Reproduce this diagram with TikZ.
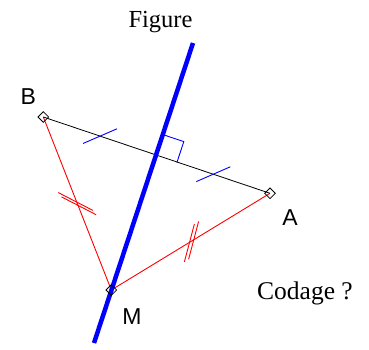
\documentclass[tikz,border=0pt]{standalone}
\usepackage{fontspec}
\setmainfont{Liberation Serif}
\newfontfamily\labelfont{Liberation Sans}
\usetikzlibrary{positioning,calc}

\tikzset{
  pointmark/.style={draw=black, line width=0.8pt, shape=rectangle, rotate=45, minimum size=7.5pt, inner sep=0pt},
  ptlabel/.style={font=\labelfont\fontsize{23}{26}\selectfont, inner sep=0pt, anchor=base},
  titletext/.style={font=\fontsize{24.5}{28}\selectfont, inner sep=0pt, anchor=base},
  codeblue/.style={blue, line width=0.9pt},
  codered/.style={red, line width=0.9pt}
}

\begin{document}
\begin{tikzpicture}[x=1pt,y=-1pt]
\useasboundingbox (0,0) rectangle (369,350);
% points
\coordinate (B) at (43.3,117);
\coordinate (A) at (270,193.3);
\coordinate (M) at (111.3,290);
\coordinate (top) at (193,43);
\coordinate (bot) at (94,343);
\coordinate (I) at (156,155.5);
% segments
\draw[codered] (B) -- (M);
\draw[codered] (A) -- (M);
\draw[black, line width=0.8pt] (B) -- (A);
% mediatrice
\draw[blue, line width=4.5pt] (top) -- (bot);
% right angle
\draw[codeblue] ($(I)+(20.9,7)$) -- ($(I)+(27.8,-13.9)$) -- ($(I)+(6.9,-20.9)$);
% equal halves of AB
\draw[codeblue] (83,143.5) -- (117,128.8);
\draw[codeblue] (196.3,181.6) -- (230.3,166.8);
% equal lengths MA and MB
\draw[codered] (58.3,192.6) -- (92.9,210.4);
\draw[codered] (61.5,196.9) -- (96.1,214.7);
\draw[codered] (198.6,221.5) -- (188.6,259.3);
\draw[codered] (194.4,224) -- (184.4,261.8);
% marks
\node[pointmark] (mB) at (B) {};
\node[pointmark] (mA) at (A) {};
\node[pointmark] (mM) at (M) {};
% labels
\node[ptlabel] (lB) at (28.3,105) {B};
\node[ptlabel] (lA) at (290,225) {A};
\node[ptlabel] (lM) at (132,324) {M};
\node[titletext] (fig) at (160.5,27.5) {Figure};
\node[titletext, font=\fontsize{25.5}{29}\selectfont] (cod) at (305,299) {Codage ?};
\end{tikzpicture}
\end{document}
